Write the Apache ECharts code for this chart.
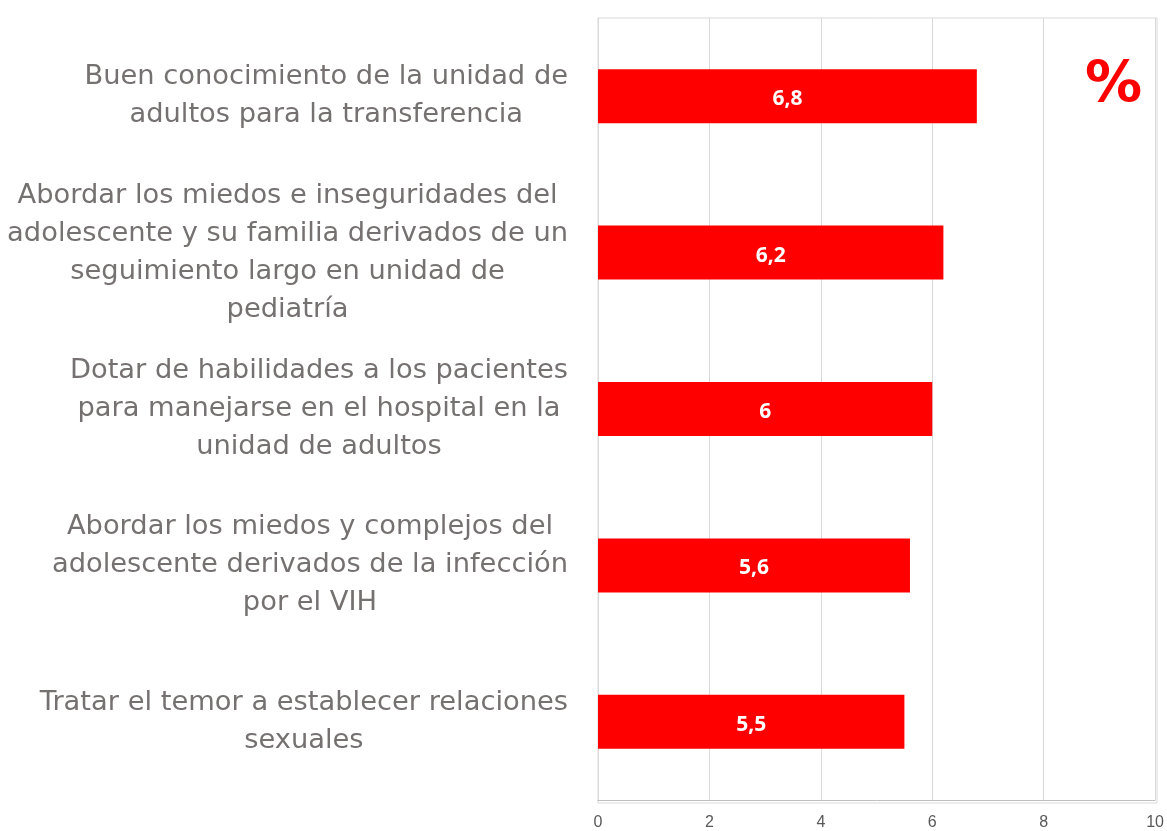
<!DOCTYPE html>
<html>
<head>
<meta charset="utf-8">
<script src="https://cdn.jsdelivr.net/npm/echarts@6/dist/echarts.min.js"></script>
<style>
  html, body { margin: 0; padding: 0; background: #fff; }
  #chart { width: 1167px; height: 831px; }
</style>
</head>
<body>
<div id="chart"></div>
<script>
// categories listed bottom to top (ECharts category axis starts at the bottom)
var categories = [
  'Tratar el temor a establecer relaciones\nsexuales',
  'Abordar los miedos y complejos del\nadolescente derivados de la infección\npor el VIH',
  'Dotar de habilidades a los pacientes\npara manejarse en el hospital en la\nunidad de adultos',
  'Abordar los miedos e inseguridades del\nadolescente y su familia derivados de un\nseguimiento largo en unidad de\npediatría',
  'Buen conocimiento de la unidad de\nadultos para la transferencia'
];
var values = [5.5, 5.6, 6, 6.2, 6.8];
var xTicks = [0, 2, 4, 6, 8, 10];

var chart = echarts.init(document.getElementById('chart'));
chart.setOption({
  animation: false,
  title: {
    text: '%',
    left: 1080,
    top: 54,
    textStyle: { color: '#ff0000', fontSize: 57, fontWeight: 'bold', fontFamily: 'DejaVu Sans' }
  },
  grid: { left: 598, right: 10, top: 18, bottom: 28, containLabel: false },
  xAxis: {
    type: 'value',
    min: xTicks[0],
    max: xTicks[xTicks.length - 1],
    interval: 2,
    axisLine: { show: true, lineStyle: { color: '#bfbfbf', width: 1 } },
    axisTick: { show: false },
    splitLine: { show: true, lineStyle: { color: '#d9d9d9', width: 1 } },
    axisLabel: { color: '#595959', fontSize: 16, fontFamily: 'Liberation Sans', margin: 15 }
  },
  yAxis: {
    type: 'category',
    data: categories,
    axisLine: { show: true, lineStyle: { color: '#d9d9d9' } },
    axisTick: { show: false },
    splitLine: { show: false },
    axisLabel: {
      margin: 30,
      align: 'right',
      formatter: function (v) {
        return v.split('\n').map(function (l) { return '{c|' + l + '}'; }).join('\n');
      },
      rich: {
        c: { align: 'center', color: '#767171', fontSize: 27.3, lineHeight: 38, fontFamily: 'DejaVu Sans' }
      }
    }
  },
  series: [{
    type: 'bar',
    data: values,
    barWidth: 54,
    itemStyle: { color: '#ff0000' },
    label: {
      show: true,
      position: 'inside',
      offset: [0, 3],
      color: '#ffffff',
      fontSize: 21,
      fontWeight: 'bold',
      fontFamily: 'Open Sans',
      formatter: function (p) { return String(p.value).replace('.', ','); }
    }
  }],
  graphic: [{
    type: 'rect',
    shape: { x: 598, y: 18, width: 559, height: 785 },
    style: { fill: 'none', stroke: '#d9d9d9', lineWidth: 1 },
    silent: true,
    z: -1
  }]
});
</script>
</body>
</html>
